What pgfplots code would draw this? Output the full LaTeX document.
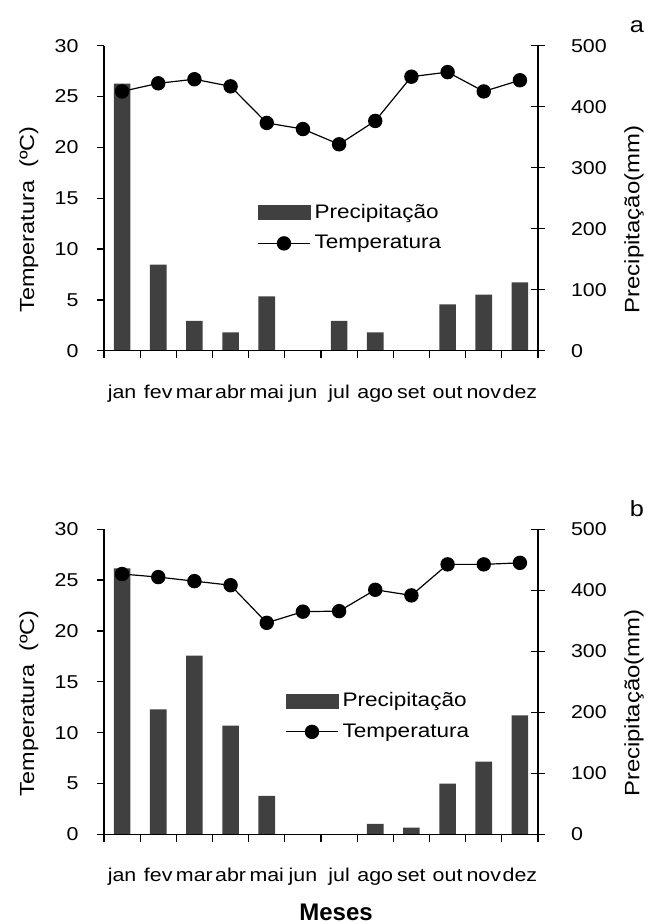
\documentclass[border=0pt]{standalone}
\usepackage{fontspec}
\setmainfont[FakeStretch=1.15]{Liberation Sans}
\newfontfamily\mesesfont{Liberation Sans Bold}
\usepackage{pgfplots}
\pgfplotsset{compat=1.18}

\definecolor{barcol}{RGB}{64,64,64}

% 1 px of the reference = 0.5pt
\pgfplotsset{
  base/.style={
    scale only axis, width=217pt, height=152.5pt,
    xmin=0, xmax=12, clip=false,
    axis line style={line width=0.65pt},
    every tick/.style={black, line width=0.65pt},
    ticklabel style={font=\fontsize{9.3}{11}\selectfont},
    /pgf/number format/assume math mode=true,
  },
  tempaxis/.style={base,
    axis x line*=bottom, axis y line*=left,
    ymin=0, ymax=30, ytick={0,5,...,30},
    tick align=outside, major tick length=3.75pt,
    xtick={0,1,...,12},
    xticklabels={jan,fev,mar,abr,mai,jun,jul,ago,set,out,nov,dez,{}},
    xticklabel style={anchor=base, xshift=9.04pt, yshift=-20pt},
    yticklabel style={xshift=-5.5pt},
    ylabel={Temperatura\ \ (ºC)},
    ylabel style={at={(axis description cs:-0.173,0.43)}, anchor=center,
      font=\fontsize{10.2}{12}\selectfont},
    legend style={draw=none, fill=none, font=\fontsize{9.8}{11}\selectfont,
      legend cell align=left, row sep=3pt, inner sep=0pt,
      anchor=west},
    every axis title shift=0pt,
    title style={at={(axis description cs:1.228,1.0426)}, anchor=base,
      font=\fontsize{11}{12}\selectfont},
  },
  precaxis/.style={base,
    axis x line=none, axis y line*=right,
    ymin=0, ymax=500, ytick={0,100,...,500},
    tick align=center, major tick length=7pt,
    yticklabel style={xshift=9.5pt},
    ylabel={Precipitação(mm)},
    ylabel style={at={(axis description cs:1.221,0.43)}, anchor=center,
      font=\fontsize{10.4}{12}\selectfont},
  },
  barlegend/.style={legend image code/.code={
      \fill[barcol] (0pt,-3.5pt) rectangle (26pt,3.5pt);}},
  linelegend/.style={legend image code/.code={
      \draw[mark repeat=2, mark phase=2, ##1] plot coordinates {(0pt,0pt) (13pt,0pt) (26pt,0pt)};}},
  templine/.style={black, line width=0.6pt, mark=*, mark size=3.3pt,
      mark options={solid, fill=black}},
}

\pgfplotstableread{
m  precA  tempA  precB  tempB
0.5  438  25.5  436  25.6
1.5  141  26.3  205  25.3
2.5   49  26.7  293  24.9
3.5   30  26.0  178  24.5
4.5   89  22.4   63  20.8
5.5    0  21.8    0  21.9
6.5   49  20.3    0  21.95
7.5   30  22.6   17  24.05
8.5    0  26.95  11  23.5
9.5   76  27.4   83  26.55
10.5  92  25.5  119  26.55
11.5 112  26.6  195  26.7
}\climate

\begin{document}
\begin{tikzpicture}
\path[use as bounding box] (0pt,0pt) rectangle (331.5pt,462pt);

% ---- panel a ----
\begin{axis}[precaxis, at={(52pt,286.65pt)}, anchor=south west]
\addplot[ybar, bar width=8.3pt, fill=barcol, draw=none] table[x=m, y=precA] {\climate};
\end{axis}
\begin{axis}[tempaxis, at={(52pt,286.65pt)}, anchor=south west,
    legend style={at={(axis description cs:0.3525,0.403)}},
    title={a}]
\addlegendimage{barlegend}
\addlegendentry{Precipitação}
\addplot[templine, linelegend] table[x=m, y=tempA] {\climate};
\addlegendentry{Temperatura}
\end{axis}

% ---- panel b ----
\begin{axis}[precaxis, at={(52pt,44.85pt)}, anchor=south west]
\addplot[ybar, bar width=8.3pt, fill=barcol, draw=none] table[x=m, y=precB] {\climate};
\end{axis}
\begin{axis}[tempaxis, at={(52pt,44.85pt)}, anchor=south west,
    legend style={at={(axis description cs:0.417,0.387)}},
    title={b}]
\addlegendimage{barlegend}
\addlegendentry{Precipitação}
\addplot[templine, linelegend] table[x=m, y=tempB] {\climate};
\addlegendentry{Temperatura}
\end{axis}
% x axis title, set under the lower panel
\node[anchor=base, inner sep=0pt, font=\mesesfont\fontsize{12}{14}\selectfont]
  at (52pt+0.5346*217pt, 44.85pt-0.281*152.5pt) {Meses};
\end{tikzpicture}
\end{document}
